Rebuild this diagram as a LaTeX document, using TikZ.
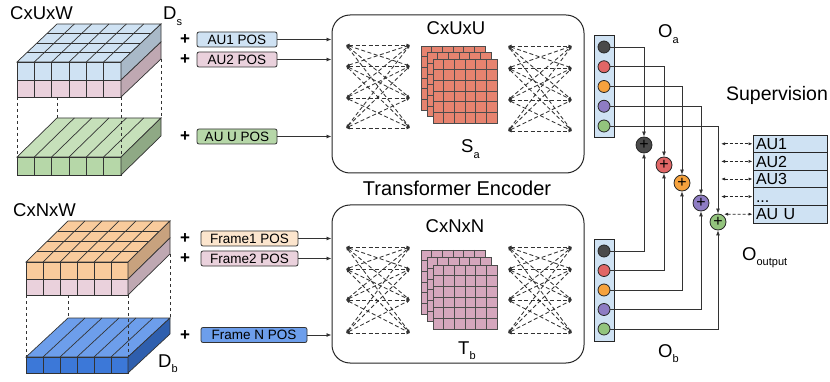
\documentclass[tikz,border=0pt]{standalone}
\usepackage{fontspec}
\setmainfont{Liberation Sans}
\usetikzlibrary{arrows.meta}

\definecolor{aublue}{HTML}{CFE2F3}
\definecolor{aublueside}{HTML}{A9B9C8}
\definecolor{aupink}{HTML}{EAD1DC}
\definecolor{aupinkside}{HTML}{BFA8B2}
\definecolor{augreen}{HTML}{B6D7A8}
\definecolor{augreentop}{HTML}{C6E0BA}
\definecolor{augreenside}{HTML}{8FA985}
\definecolor{frorange}{HTML}{F9CB9C}
\definecolor{frorangeside}{HTML}{C8A27E}
\definecolor{frbluetop}{HTML}{6D9EEB}
\definecolor{frblue}{HTML}{3C78D8}
\definecolor{frblueside}{HTML}{2F5FAE}
\definecolor{poslight}{HTML}{FCE5CD}
\definecolor{samat}{HTML}{E6836F}
\definecolor{tbmat}{HTML}{D5A6BD}
\definecolor{dotblack}{HTML}{4A4A4A}
\definecolor{dotred}{HTML}{E06666}
\definecolor{dotorange}{HTML}{F6A23D}
\definecolor{dotpurple}{HTML}{8E7CC3}
\definecolor{dotgreen}{HTML}{93C47D}

\newcommand{\lowsub}[1]{\raisebox{-0.55ex}{\fontsize{11}{11}\selectfont #1}}
\newcommand{\audots}{...}

\tikzset{
  edgeline/.style={draw=black!80, line width=0.7pt},
  posbox/.style={draw=black!80, line width=0.8pt, rounded corners=2pt, minimum height=15pt, inner sep=0pt, font=\fontsize{13.5}{14}\selectfont},
  plusmark/.style={inner sep=0pt, font=\fontsize{17}{17}\selectfont\bfseries},
  encoder/.style={draw=black!85, line width=1pt, rounded corners=18pt, minimum width=252pt, minimum height=158pt},
  attn/.style={dash pattern=on 4pt off 2.5pt, line width=0.85pt, draw=black!80, {Latex[length=3.5pt,width=3pt]}-{Latex[length=3.5pt,width=3pt]}},
  featdot/.style={circle, draw=black!85, line width=0.8pt, minimum size=12pt, inner sep=0pt},
  sumnode/.style={circle, draw=black!85, line width=0.8pt, minimum size=16pt, inner sep=0pt, font=\fontsize{16}{16}\selectfont},
  link/.style={line width=0.8pt, draw=black!80, -{Latex[length=5pt,width=4pt]}},
  supv/.style={dash pattern=on 3pt off 2pt, line width=0.7pt, draw=black!85, {Latex[length=4pt,width=3pt]}-{Latex[length=4pt,width=3pt]}},
  suprow/.style={draw=black!85, line width=0.8pt, fill=aublue, minimum width=74pt, minimum height=17.6pt, inner sep=0pt, text width=68pt, text height=11.5pt, text depth=0pt, align=left, font=\fontsize{16}{16}\selectfont},
  labeltext/.style={inner sep=0pt, font=\fontsize{18.5}{19}\selectfont},
}

\begin{document}
\begin{tikzpicture}[x=1pt, y=-1pt]
	\fill[white] (0,0) rectangle (830,382);
	\useasboundingbox (0,0) rectangle (830,382);

	% AU tokens D_s
	\filldraw[fill=aublue, edgeline] (17,62) -- (121,62) -- (161,24) -- (57,24) -- cycle;
	\foreach \i in {1,...,5} \draw[edgeline] (17+\i*17.333,62) -- (57+\i*17.333,24);
	\foreach \j in {1,2,3} \draw[edgeline] (17+\j*10,62-\j*9.5) -- (121+\j*10,62-\j*9.5);
	\filldraw[fill=aublue, edgeline] (17,62) rectangle (121,80);
	\filldraw[fill=aupink, edgeline] (17,80) rectangle (121,97);
	\foreach \i in {1,...,5} \draw[edgeline] (17+\i*17.333,62) -- (17+\i*17.333,97);
	\filldraw[fill=aublueside, edgeline] (121,62) -- (161,24) -- (161,42) -- (121,80) -- cycle;
	\filldraw[fill=aupinkside, edgeline] (121,80) -- (161,42) -- (161,59) -- (121,97) -- cycle;
	\filldraw[fill=augreentop, edgeline] (17,157) -- (121,157) -- (161,118) -- (57,118) -- cycle;
	\foreach \i in {1,...,5} \draw[edgeline] (17+\i*17.333,157) -- (57+\i*17.333,118);
	\filldraw[fill=augreen, edgeline] (17,157) rectangle (121,175);
	\foreach \i in {1,...,5} \draw[edgeline] (17+\i*17.333,157) -- (17+\i*17.333,175);
	\filldraw[fill=augreenside, edgeline] (121,157) -- (161,118) -- (161,136) -- (121,175) -- cycle;
	\draw[edgeline, dashed] (17,97) -- (17,157);
	\draw[edgeline, dashed] (57,97) -- (57,118);
	\draw[edgeline, dashed] (121,97) -- (121,157);
	\draw[edgeline, dashed] (161,59) -- (161,118);

	% frame tokens D_b
	\filldraw[fill=frorange, edgeline] (26,262) -- (128,262) -- (170,221) -- (68,221) -- cycle;
	\foreach \i in {1,...,5} \draw[edgeline] (26+\i*17,262) -- (68+\i*17,221);
	\foreach \j in {1,2,3} \draw[edgeline] (26+\j*10.5,262-\j*10.25) -- (128+\j*10.5,262-\j*10.25);
	\filldraw[fill=frorange, edgeline] (26,262) rectangle (128,279);
	\filldraw[fill=aupink, edgeline] (26,279) rectangle (128,295);
	\foreach \i in {1,...,5} \draw[edgeline] (26+\i*17,262) -- (26+\i*17,295);
	\filldraw[fill=frorangeside, edgeline] (128,262) -- (170,221) -- (170,238) -- (128,279) -- cycle;
	\filldraw[fill=aupinkside, edgeline] (128,279) -- (170,238) -- (170,254) -- (128,295) -- cycle;
	\filldraw[fill=frbluetop, edgeline] (26,357) -- (128,357) -- (170,318) -- (68,318) -- cycle;
	\foreach \i in {1,...,5} \draw[edgeline] (26+\i*17,357) -- (68+\i*17,318);
	\filldraw[fill=frblue, edgeline] (26,357) rectangle (128,373);
	\foreach \i in {1,...,5} \draw[edgeline] (26+\i*17,357) -- (26+\i*17,373);
	\filldraw[fill=frblueside, edgeline] (128,357) -- (170,318) -- (170,334) -- (128,373) -- cycle;
	\draw[edgeline, dashed] (26,295) -- (26,357);
	\draw[edgeline, dashed] (68,295) -- (68,318);
	\draw[edgeline, dashed] (128,295) -- (128,357);
	\draw[edgeline, dashed] (170,254) -- (170,318);

	\node[labeltext, anchor=base west] (dimau) at (10,20) {CxUxW};
	\node[labeltext, anchor=base west] (ds) at (163,20) {D\lowsub{s}};
	\node[labeltext, anchor=base west] (dimfr) at (13,217) {CxNxW};
	\node[labeltext, anchor=base west] (db) at (158,367) {D\lowsub{b}};

	% position embeddings
	\node[posbox, fill=aublue, minimum width=80pt] (au1pos) at (237,39.5) {AU1 POS};
	\node[posbox, fill=aupink, minimum width=80pt] (au2pos) at (237,59.5) {AU2 POS};
	\node[posbox, fill=augreen, minimum width=80pt] (auupos) at (237,136.5) {AU U POS};
	\node[posbox, fill=poslight, minimum width=97pt] (f1pos) at (249.5,238.5) {Frame1 POS};
	\node[posbox, fill=aupink, minimum width=97pt] (f2pos) at (249.5,258.5) {Frame2 POS};
	\node[posbox, fill=frbluetop, minimum width=106pt] (fnpos) at (254,335) {Frame N POS};
	\node[plusmark] (p1) at (185,40) {+};
	\node[plusmark] (p2) at (185,60) {+};
	\node[plusmark] (p3) at (185,137) {+};
	\node[plusmark] (p4) at (185,239) {+};
	\node[plusmark] (p5) at (185,259) {+};
	\node[plusmark] (p6) at (185,336) {+};

	% encoders
	\node[encoder] (enca) at (458,94) {};
	\node[encoder] (encb) at (458,284) {};
	\foreach \b in {au1pos,au2pos,auupos} \draw[link] (\b) -- (\b -| enca.west);
	\foreach \b in {f1pos,f2pos,fnpos} \draw[link] (\b) -- (\b -| encb.west);

	\foreach \r/\y/\z in {1/45/46,2/66/68,3/98/100,4/128/131} {
		\coordinate (al\r) at (346,\y); \coordinate (ar\r) at (410,\y);
		\coordinate (cl\r) at (508,\z); \coordinate (cr\r) at (572,\z);
	}
	\foreach \r/\y in {1/247,2/269,3/300,4/333} {
		\coordinate (dl\r) at (346,\y); \coordinate (dr\r) at (410,\y);
		\coordinate (el\r) at (508,\y); \coordinate (er\r) at (572,\y);
	}
	\foreach \p in {1,...,4} \foreach \q in {1,...,4} {
		\draw[attn] (al\p) -- (ar\q);
		\draw[attn] (cl\p) -- (cr\q);
		\draw[attn] (dl\p) -- (dr\q);
		\draw[attn] (el\p) -- (er\q);
	}

	\foreach \d in {0,1,2} {
		\filldraw[fill=samat, draw=black!70, line width=0.6pt] (421+6*\d,46+6.5*\d) rectangle +(64,64);
		\filldraw[fill=tbmat, draw=black!70, line width=0.6pt] (421+6*\d,250+7.5*\d) rectangle +(64,64);
		\foreach \k in {1,...,5} {
			\draw[draw=black!70, line width=0.6pt] (421+6*\d+\k*10.667,46+6.5*\d) -- +(0,64);
			\draw[draw=black!70, line width=0.6pt] (421+6*\d,46+6.5*\d+\k*10.667) -- +(64,0);
			\draw[draw=black!70, line width=0.6pt] (421+6*\d+\k*10.667,250+7.5*\d) -- +(0,64);
			\draw[draw=black!70, line width=0.6pt] (421+6*\d,250+7.5*\d+\k*10.667) -- +(64,0);
		}
	}
	\node[labeltext, anchor=base] (dimsa) at (456,35) {CxUxU};
	\node[labeltext, anchor=base] (dimtb) at (455,233) {CxNxN};
	\node[labeltext, anchor=base west] (sa) at (461,153) {S\lowsub{a}};
	\node[labeltext, anchor=base west] (tb) at (458,354) {T\lowsub{b}};
	\node[inner sep=0pt, anchor=base, font=\fontsize{20}{20}\selectfont] (enctitle) at (457,196) {Transformer Encoder};

	% outputs and fusion
	\node[draw=black!85, line width=0.8pt, fill=aublue, minimum width=20pt, minimum height=102pt] (oa) at (604,86) {};
	\node[draw=black!85, line width=0.8pt, fill=aublue, minimum width=20pt, minimum height=102pt] (ob) at (604,290) {};
	\foreach \i/\c/\x/\y in {1/dotblack/644/145, 2/dotred/664/165, 3/dotorange/682/183, 4/dotpurple/701/203, 5/dotgreen/718/222} {
		\node[featdot, fill=\c] (a\i) at (604,27.25+19.75*\i) {};
		\node[featdot, fill=\c] (b\i) at (604,231.5+19.5*\i) {};
		\node[sumnode, fill=\c] (s\i) at (\x,\y) {+};
		\draw[link] (a\i) -| (s\i);
		\draw[link] (b\i) -| (s\i);
	}
	\node[labeltext, anchor=base west] (oalabel) at (658,38) {O\lowsub{a}};
	\node[labeltext, anchor=base west] (oblabel) at (658,357) {O\lowsub{b}};
	\node[labeltext, anchor=base west] (ooutlabel) at (742,260) {O\lowsub{output}};

	% supervision
	\node[inner sep=0pt, anchor=base, font=\fontsize{19.5}{20}\selectfont] (suptitle) at (777,101) {Supervision};
	\foreach \i/\t in {1/AU1, 2/AU2, 3/AU3, 4/\audots, 5/AU U} {
		\node[suprow] (sup\i) at (790,126.2+17.6*\i) {\t};
	}
	\foreach \i in {1,...,4} {
		\coordinate (t\i) at (721,126.2+17.6*\i);
		\draw[supv] (t\i) -- (sup\i.west);
	}
	\coordinate (t5) at (724,214.2);
	\draw[supv] (t5) -- (sup5.west);
\end{tikzpicture}
\end{document}
